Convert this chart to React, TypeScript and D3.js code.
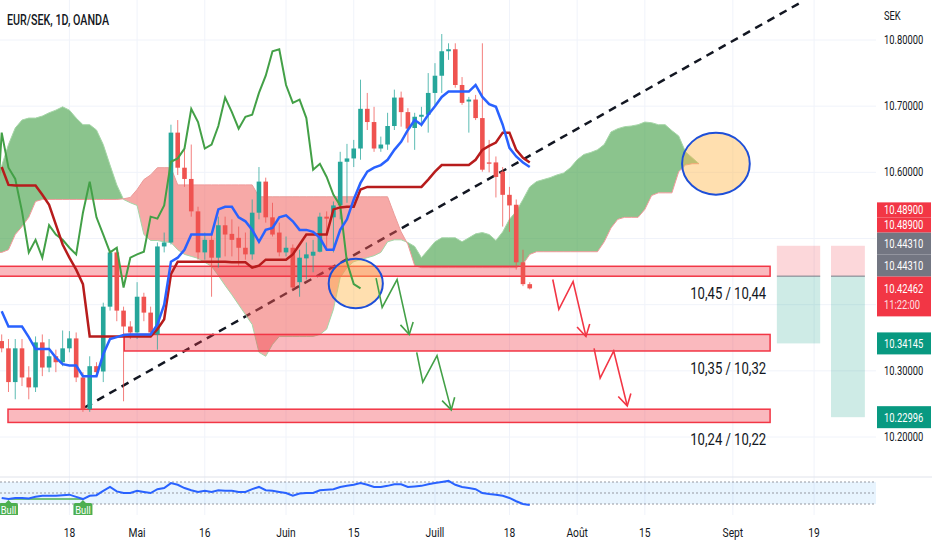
import React from "react";
import * as d3 from "d3";

const W = 932;
const H = 550;
const FONT = "Roboto, 'Liberation Sans', sans-serif";

// daily bars, weekdays only, first bar = 4 Apr 2022
const startDate = "2022-04-04";

const opens = [
  10.345, 10.334, 10.283, 10.334, 10.290, 10.275, 10.343, 10.305, 10.322, 10.313,
  10.334, 10.349, 10.290, 10.242, 10.307, 10.299, 10.397, 10.479, 10.391, 10.367,
  10.358, 10.412, 10.388, 10.355, 10.488, 10.494, 10.660, 10.607, 10.590, 10.541,
  10.479, 10.498, 10.471, 10.520, 10.507, 10.501, 10.486, 10.476, 10.539, 10.586,
  10.532, 10.509, 10.479, 10.486, 10.434, 10.470, 10.474, 10.480, 10.533, 10.532,
  10.550, 10.616, 10.621, 10.636, 10.696, 10.676, 10.636, 10.642, 10.670, 10.713,
  10.691, 10.667, 10.684, 10.687, 10.720, 10.746, 10.783, 10.786, 10.732, 10.707,
  10.710, 10.682, 10.615, 10.615, 10.601, 10.566, 10.551, 10.464, 10.431,
];
const highs = [
  10.355, 10.348, 10.348, 10.348, 10.307, 10.352, 10.355, 10.348, 10.332, 10.361,
  10.360, 10.358, 10.298, 10.322, 10.313, 10.403, 10.483, 10.483, 10.397, 10.375,
  10.434, 10.418, 10.397, 10.494, 10.509, 10.672, 10.679, 10.637, 10.642, 10.548,
  10.509, 10.509, 10.533, 10.533, 10.529, 10.518, 10.509, 10.559, 10.608, 10.592,
  10.554, 10.524, 10.503, 10.491, 10.483, 10.494, 10.498, 10.539, 10.541, 10.556,
  10.631, 10.643, 10.649, 10.740, 10.720, 10.699, 10.654, 10.690, 10.725, 10.722,
  10.697, 10.690, 10.699, 10.750, 10.765, 10.809, 10.795, 10.795, 10.744, 10.714,
  10.717, 10.795, 10.649, 10.624, 10.608, 10.578, 10.559, 10.483, 10.434,
];
const lows = [
  10.328, 10.268, 10.257, 10.277, 10.257, 10.268, 10.292, 10.298, 10.298, 10.307,
  10.328, 10.283, 10.238, 10.238, 10.292, 10.283, 10.391, 10.375, 10.254, 10.348,
  10.348, 10.375, 10.352, 10.332, 10.479, 10.491, 10.596, 10.578, 10.533, 10.468,
  10.468, 10.412, 10.456, 10.473, 10.473, 10.458, 10.468, 10.468, 10.529, 10.524,
  10.503, 10.473, 10.473, 10.423, 10.412, 10.438, 10.449, 10.479, 10.483, 10.479,
  10.529, 10.554, 10.608, 10.619, 10.664, 10.631, 10.631, 10.634, 10.664, 10.669,
  10.645, 10.634, 10.669, 10.660, 10.699, 10.720, 10.770, 10.728, 10.702, 10.660,
  10.679, 10.601, 10.600, 10.562, 10.518, 10.510, 10.453, 10.428, 10.423,
];
const closes = [
  10.334, 10.283, 10.334, 10.290, 10.275, 10.343, 10.305, 10.322, 10.313, 10.334,
  10.349, 10.290, 10.242, 10.307, 10.298, 10.397, 10.479, 10.391, 10.367, 10.358,
  10.412, 10.388, 10.358, 10.488, 10.494, 10.660, 10.607, 10.590, 10.541, 10.479,
  10.498, 10.471, 10.520, 10.506, 10.498, 10.486, 10.476, 10.539, 10.586, 10.532,
  10.506, 10.479, 10.486, 10.426, 10.471, 10.476, 10.480, 10.533, 10.530, 10.550,
  10.616, 10.621, 10.636, 10.696, 10.676, 10.636, 10.642, 10.670, 10.713, 10.691,
  10.666, 10.684, 10.687, 10.720, 10.746, 10.783, 10.786, 10.732, 10.705, 10.710,
  10.682, 10.604, 10.613, 10.593, 10.566, 10.550, 10.464, 10.431, 10.42462,
];

// Ichimoku lines
const tenkan = [
  10.390, 10.367, 10.367, 10.367, 10.351, 10.333, 10.333, 10.333, 10.320, 10.310,
  10.308, 10.308, 10.292, 10.292, 10.292, 10.325, 10.348, 10.351, 10.354, 10.355,
  10.355, 10.355, 10.355, 10.370, 10.400, 10.465, 10.471, 10.483, 10.506, 10.506,
  10.506, 10.506, 10.544, 10.548, 10.548, 10.532, 10.526, 10.513, 10.495, 10.513,
  10.516, 10.532, 10.535, 10.526, 10.513, 10.513, 10.510, 10.501, 10.483, 10.483,
  10.513, 10.529, 10.559, 10.584, 10.601, 10.607, 10.611, 10.619, 10.634, 10.646,
  10.664, 10.679, 10.672, 10.687, 10.700, 10.714, 10.722, 10.722, 10.722, 10.722,
  10.732, 10.714, 10.703, 10.699, 10.672, 10.637, 10.624, 10.615, 10.608,
];
const kijun = [
  10.608, 10.581, 10.580, 10.580, 10.580, 10.580, 10.566, 10.551, 10.521, 10.491,
  10.471, 10.453, 10.431, 10.352, 10.352, 10.352, 10.352, 10.352, 10.352, 10.352,
  10.352, 10.352, 10.352, 10.363, 10.378, 10.446, 10.465, 10.465, 10.465, 10.465,
  10.465, 10.465, 10.465, 10.465, 10.464, 10.464, 10.464, 10.456, 10.459, 10.468,
  10.468, 10.468, 10.468, 10.476, 10.491, 10.506, 10.506, 10.506, 10.506, 10.544,
  10.547, 10.548, 10.548, 10.574, 10.578, 10.578, 10.578, 10.578, 10.578, 10.578,
  10.578, 10.578, 10.578, 10.589, 10.601, 10.611, 10.611, 10.611, 10.611, 10.611,
  10.619, 10.634, 10.640, 10.645, 10.660, 10.660, 10.634, 10.622, 10.615,
];
// leading spans, bars -1 .. 103 (shifted forward)
const spanStart = -1;
const spanA = [
  10.585,
  10.610, 10.642, 10.667, 10.679, 10.682, 10.682, 10.685, 10.690, 10.694, 10.699,
  10.694, 10.682, 10.672, 10.672, 10.664, 10.642, 10.611, 10.581, 10.559, 10.554,
  10.550, 10.506, 10.497, 10.497, 10.495, 10.494, 10.483, 10.476, 10.473, 10.470,
  10.464, 10.458, 10.444, 10.429, 10.415, 10.400, 10.385, 10.370, 10.328, 10.322,
  10.340, 10.352, 10.352, 10.352, 10.352, 10.352, 10.352, 10.355, 10.363, 10.393,
  10.441, 10.456, 10.465, 10.468, 10.471, 10.474, 10.479, 10.495, 10.498, 10.498,
  10.494, 10.488, 10.471, 10.483, 10.495, 10.501, 10.501, 10.501, 10.495, 10.501,
  10.507, 10.509, 10.506, 10.497, 10.510, 10.529, 10.541, 10.559, 10.578, 10.586,
  10.589, 10.592, 10.596, 10.599, 10.607, 10.619, 10.627, 10.630, 10.634, 10.642,
  10.661, 10.666, 10.669, 10.670, 10.672, 10.676, 10.675, 10.672, 10.672, 10.663,
  10.655, 10.631, 10.622, 10.613,
];
const spanB = [
  10.479,
  10.479, 10.483, 10.506, 10.518, 10.532, 10.556, 10.559, 10.559, 10.559, 10.559,
  10.559, 10.559, 10.559, 10.559, 10.559, 10.559, 10.559, 10.559, 10.560, 10.562,
  10.574, 10.589, 10.596, 10.607, 10.607, 10.607, 10.581, 10.581, 10.581, 10.581,
  10.581, 10.581, 10.581, 10.581, 10.581, 10.581, 10.581, 10.581, 10.563, 10.563,
  10.563, 10.563, 10.563, 10.563, 10.563, 10.563, 10.563, 10.563, 10.563, 10.563,
  10.563, 10.563, 10.563, 10.563, 10.563, 10.563, 10.563, 10.563, 10.536, 10.510,
  10.491, 10.459, 10.456, 10.456, 10.456, 10.456, 10.456, 10.456, 10.456, 10.456,
  10.456, 10.456, 10.456, 10.456, 10.456, 10.456, 10.456, 10.461, 10.476, 10.480,
  10.480, 10.480, 10.480, 10.480, 10.480, 10.480, 10.480, 10.480, 10.480, 10.495,
  10.516, 10.529, 10.532, 10.532, 10.532, 10.544, 10.565, 10.569, 10.569, 10.569,
  10.601, 10.611, 10.613, 10.613,
];
const chikouShift = 25;

// oscillator pane
const rsi = [
  41, 39, 41, 41, 40, 43, 45, 45, 45, 46, 47, 43, 39, 45, 46, 54, 61, 53, 50, 50,
  54, 52, 50, 57, 59, 68, 65, 59, 55, 52, 54, 52, 55, 54, 54, 52, 52, 57, 61, 55,
  54, 52, 50, 45, 49, 50, 50, 55, 56, 57, 61, 63, 65, 68, 65, 61, 61, 63, 66, 66,
  61, 62, 63, 66, 68, 70, 72, 65, 61, 59, 57, 50, 48, 47, 45, 41, 35, 30, 28,
];
const rsiLevels = [70, 50, 30];
const bullBars = [1, 12];

const xTicks = [
  { date: "2022-04-18", label: "18" },
  { date: "2022-05-02", label: "Mai" },
  { date: "2022-05-16", label: "16" },
  { date: "2022-06-01", label: "Juin" },
  { date: "2022-06-15", label: "15" },
  { date: "2022-07-01", label: "Juill" },
  { date: "2022-07-18", label: "18" },
  { date: "2022-08-01", label: "Août" },
  { date: "2022-08-15", label: "15" },
  { date: "2022-09-01", label: "Sept" },
  { date: "2022-09-19", label: "19" },
];
const priceGrid = [10.2, 10.3, 10.4, 10.5, 10.6, 10.7, 10.8];
const priceTickLabels = [10.2, 10.3, 10.6, 10.7, 10.8];

// drawings
const trendline = [
  { bar: 12.3, price: 10.245 },
  { bar: 117.9, price: 10.856 },
];
const zones = [
  { top: 10.458, bottom: 10.443, from: -1.5, to: 113.5, label: "10,45 / 10,44" },
  { top: 10.355, bottom: 10.33, from: 18.1, to: 113.5, label: "10,35 / 10,32" },
  { top: 10.242, bottom: 10.222, from: 0.93, to: 113.5, label: "10,24 / 10,22" },
];
const arrows = [
  { color: "#43A047", pts: [[55.3, 10.44], [56.2, 10.396], [58.4, 10.438], [60.2, 10.355]] },
  { color: "#43A047", pts: [[61.3, 10.328], [62.2, 10.283], [64.3, 10.323], [66.4, 10.241]] },
  { color: "#F23645", pts: [[81.4, 10.438], [82.3, 10.393], [84.4, 10.435], [86.3, 10.352]] },
  { color: "#F23645", pts: [[87.5, 10.334], [88.4, 10.289], [90.4, 10.33], [92.4, 10.247]] },
];
const ellipses = [
  { bar: 52.3, price: 10.432, rBars: 4.0, rPrice: 0.0375 },
  { bar: 105.5, price: 10.613, rBars: 5.0, rPrice: 0.0467 },
];
const positions = [
  { from: 114.5, to: 120.9, entry: 10.4431, stop: 10.489, target: 10.34145 },
  { from: 122.5, to: 127.5, entry: 10.4431, stop: 10.489, target: 10.22996 },
];
const axisLabels = [
  { price: 10.22996, text: "10.22996", color: "#089981", h: 22 },
  { price: 10.34145, text: "10.34145", color: "#089981", h: 22 },
  { price: 10.42462, text: "10.42462", sub: "11:22:00", color: "#F23645", h: 40 },
  { price: 10.4431, text: "10.44310", color: "#737682", h: 22 },
  { price: 10.4431, text: "10.44310", color: "#737682", h: 22 },
  { price: 10.489, text: "10.48900", color: "#F23645", h: 15 },
  { price: 10.489, text: "10.48900", color: "#F23645", h: 15 },
];

const UP = "#26A69A";
const DOWN = "#EF5350";

function barOf(date: string) {
  const t = new Date(startDate + "T00:00:00Z");
  const d = new Date(date + "T00:00:00Z");
  let n = 0;
  while (t < d) {
    t.setUTCDate(t.getUTCDate() + 1);
    const w = t.getUTCDay();
    if (w !== 0 && w !== 6) n++;
  }
  return n;
}

function arrowHead(p1: number[], p2: number[], len = 13, ang = Math.PI / 6) {
  const a = Math.atan2(p2[1] - p1[1], p2[0] - p1[0]);
  const w1 = [p2[0] - len * Math.cos(a - ang), p2[1] - len * Math.sin(a - ang)];
  const w2 = [p2[0] - len * Math.cos(a + ang), p2[1] - len * Math.sin(a + ang)];
  return `M${w1[0]},${w1[1]}L${p2[0]},${p2[1]}L${w2[0]},${w2[1]}`;
}

// narrow text: the screenshot font is much more condensed than Roboto
function NText(props: {
  x: number;
  y: number;
  size: number;
  sx?: number;
  anchor?: "start" | "middle" | "end";
  fill?: string;
  weight?: number;
  opacity?: number;
  children: React.ReactNode;
}) {
  const { x, y, size, sx = 0.8, anchor = "start", fill = "#131722", weight = 400, opacity = 1 } = props;
  return (
    <text
      transform={`translate(${x},${y}) scale(${sx},1)`}
      fontSize={size}
      textAnchor={anchor}
      fill={fill}
      fontWeight={weight}
      fillOpacity={opacity}
    >
      {props.children}
    </text>
  );
}

export default function App() {
  const plotRight = 876;
  const mainBottom = 477;
  const paneBottom = 515;

  const x = d3.scaleLinear().domain([0, 78]).range([1.7, 1.7 + 78 * 6.77]);
  const y = d3.scaleLinear().domain([10.2, 10.8]).range([437, 40]);
  const ry = d3.scaleLinear().domain([30, 70]).range([504, 482]);
  const fmt = d3.format(".5f");

  const bodyW = 4.6;
  const spanBar = (k: number) => x(k + spanStart);

  const between = d3
    .area<number>()
    .x((_, k) => spanBar(k))
    .y0((_, k) => y(spanB[k]))
    .y1((_, k) => y(spanA[k]))(spanA) as string;
  const aboveB = d3
    .area<number>()
    .x((_, k) => spanBar(k))
    .y0(0)
    .y1((_, k) => y(spanB[k]))(spanB) as string;
  const belowB = d3
    .area<number>()
    .x((_, k) => spanBar(k))
    .y0((_, k) => y(spanB[k]))
    .y1(mainBottom)(spanB) as string;
  const lineA = d3.line<number>().x((_, k) => spanBar(k)).y((v) => y(v))(spanA) as string;
  const lineB = d3.line<number>().x((_, k) => spanBar(k)).y((v) => y(v))(spanB) as string;

  const priceLine = d3.line<number>().x((_, i) => x(i)).y((v) => y(v));
  const chikouPts = closes
    .map((c, i) => [x(i - chikouShift), y(c)] as [number, number])
    .filter((_, i) => i - chikouShift >= -1);
  const chikou = d3.line()(chikouPts) as string;
  const rsiLine = d3.line<number>().x((_, i) => x(i)).y((v) => ry(v))(rsi) as string;

  // price axis label stacking (bottom up)
  const sorted = [...axisLabels].sort((a, b) => a.price - b.price);
  let prevTop = Infinity;
  const placed = sorted.map((l) => {
    let top = l.sub ? y(l.price) - 12 : y(l.price) - l.h / 2;
    let bottom = top + l.h;
    if (bottom > prevTop) {
      bottom = prevTop;
      top = bottom - l.h;
    }
    prevTop = top;
    return { ...l, top };
  });

  const axSx = 0.78;

  return (
    <svg
      width={W}
      height={H}
      viewBox={`0 0 ${W} ${H}`}
      style={{ position: "fixed", left: 0, top: 0, background: "#fff", fontFamily: FONT }}
    >
      <defs>
        <clipPath id="main">
          <rect x={0} y={0} width={plotRight} height={mainBottom} />
        </clipPath>
        <clipPath id="pane">
          <rect x={0} y={mainBottom + 1} width={plotRight} height={paneBottom - mainBottom - 1} />
        </clipPath>
        <clipPath id="aboveB">
          <path d={aboveB} />
        </clipPath>
        <clipPath id="belowB">
          <path d={belowB} />
        </clipPath>
      </defs>
      <rect width={W} height={H} fill="#fff" />

      {/* grid */}
      {xTicks.map((t) => (
        <line key={t.date} x1={x(barOf(t.date))} x2={x(barOf(t.date))} y1={0} y2={paneBottom} stroke="#F0F3FA" />
      ))}
      {priceGrid.map((p) => (
        <line key={p} x1={0} x2={plotRight} y1={y(p)} y2={y(p)} stroke="#F0F3FA" />
      ))}

      <g clipPath="url(#main)">
        {/* trend line */}
        <line
          x1={x(trendline[0].bar)}
          y1={y(trendline[0].price)}
          x2={x(trendline[1].bar)}
          y2={y(trendline[1].price)}
          stroke="#131722"
          strokeWidth={2.5}
          strokeDasharray="8 6"
        />

        {/* kumo */}
        <path d={between} fill="rgba(67,160,71,0.62)" clipPath="url(#aboveB)" />
        <path d={between} fill="rgba(239,83,80,0.5)" clipPath="url(#belowB)" />
        <path d={lineA} fill="none" stroke="#A5D6A7" strokeWidth={1} />
        <path d={lineB} fill="none" stroke="#EF9A9A" strokeWidth={1} />

        {/* zones */}
        {zones.map((z) => (
          <rect
            key={z.label}
            x={x(z.from)}
            y={y(z.top)}
            width={x(z.to) - x(z.from)}
            height={y(z.bottom) - y(z.top)}
            fill="rgba(242,54,69,0.35)"
            stroke="#F23645"
            strokeWidth={1.5}
          />
        ))}

        {/* long/short tools */}
        {positions.map((p, i) => (
          <g key={i}>
            <rect x={x(p.from)} y={y(p.stop)} width={x(p.to) - x(p.from)} height={y(p.entry) - y(p.stop)} fill="rgba(242,54,69,0.2)" />
            <rect x={x(p.from)} y={y(p.entry)} width={x(p.to) - x(p.from)} height={y(p.target) - y(p.entry)} fill="rgba(8,153,129,0.2)" />
            <line x1={x(p.from)} x2={x(p.to)} y1={y(p.entry)} y2={y(p.entry)} stroke="#787B86" />
          </g>
        ))}

        {/* candles */}
        {closes.map((c, i) => {
          const o = opens[i];
          const col = c >= o ? UP : DOWN;
          const top = y(Math.max(o, c));
          const h = Math.max(1, y(Math.min(o, c)) - top);
          return (
            <g key={i}>
              <line x1={x(i)} x2={x(i)} y1={y(highs[i])} y2={y(lows[i])} stroke={col} strokeWidth={1} strokeOpacity={0.75} />
              <rect x={x(i) - bodyW / 2} y={top} width={bodyW} height={h} fill={col} />
            </g>
          );
        })}

        {/* ellipses */}
        {ellipses.map((e, i) => (
          <ellipse
            key={i}
            cx={x(e.bar)}
            cy={y(e.price)}
            rx={x(e.bar + e.rBars) - x(e.bar)}
            ry={y(e.price - e.rPrice) - y(e.price)}
            fill="rgba(255,183,77,0.45)"
            stroke="#1E4FD8"
            strokeWidth={2}
          />
        ))}

        {/* ichimoku lines */}
        <path d={chikou} fill="none" stroke="#43A047" strokeWidth={2} />
        <path d={priceLine(kijun) as string} fill="none" stroke="#B71C1C" strokeWidth={2.5} />
        <path d={priceLine(tenkan) as string} fill="none" stroke="#2962FF" strokeWidth={2.5} />

        {/* zigzag arrows */}
        {arrows.map((a, i) => {
          const pts = a.pts.map(([b, p]) => [x(b), y(p)]);
          const d = "M" + pts.map((p) => p.join(",")).join("L");
          return (
            <g key={i} fill="none" stroke={a.color} strokeWidth={1.6} strokeLinejoin="miter">
              <path d={d} />
              <path d={arrowHead(pts[pts.length - 2], pts[pts.length - 1])} />
            </g>
          );
        })}

        {zones.map((z) => (
          <NText key={z.label} x={x(z.to) - 4} y={y(z.bottom) + 23} size={17} sx={0.77} anchor="end">
            {z.label}
          </NText>
        ))}
      </g>

      {/* separator */}
      <line x1={0} x2={W} y1={mainBottom} y2={mainBottom} stroke="#E0E3EB" />

      {/* oscillator pane */}
      <g clipPath="url(#pane)">
        <rect x={0} y={ry(70)} width={plotRight} height={ry(30) - ry(70)} fill="rgba(33,150,243,0.1)" />
        {rsiLevels.map((l) => (
          <line key={l} x1={0} x2={plotRight} y1={ry(l)} y2={ry(l)} stroke="#9598A1" strokeDasharray="2 2" strokeWidth={1} />
        ))}
        <line
          x1={x(bullBars[0])}
          x2={x(bullBars[1])}
          y1={ry(rsi[bullBars[0]])}
          y2={ry(rsi[bullBars[1]])}
          stroke="#4CAF50"
          strokeWidth={1.5}
        />
        <path d={rsiLine} fill="none" stroke="#2962FF" strokeWidth={2} />
        {bullBars.map((b) => {
          const cx = x(b);
          const top = ry(rsi[b]) + 4;
          return (
            <g key={b}>
              <path d={`M${cx - 3},${top}L${cx},${top - 3}L${cx + 3},${top}Z`} fill="#4CAF50" />
              <rect x={cx - 9.5} y={top} width={19} height={15} rx={2} fill="#4CAF50" />
              <NText x={cx} y={top + 11} size={11} sx={0.85} anchor="middle" fill="#fff">
                Bull
              </NText>
            </g>
          );
        })}
      </g>

      {/* time axis */}
      {xTicks.map((t) => (
        <NText key={t.date} x={x(barOf(t.date))} y={537} size={12.5} sx={0.82} anchor="middle">
          {t.label}
        </NText>
      ))}

      {/* price axis */}
      <NText x={884} y={20} size={12} sx={axSx}>
        SEK
      </NText>
      {priceTickLabels.map((p) => (
        <NText key={p} x={884} y={y(p) + 4} size={12} sx={axSx}>
          {fmt(p)}
        </NText>
      ))}
      {placed.map((l, i) => (
        <g key={i}>
          <rect x={877} y={l.top} width={54} height={l.h} fill={l.color} />
          {l.sub ? (
            <>
              <NText x={884} y={l.top + 17} size={12} sx={axSx} fill="#fff">
                {l.text}
              </NText>
              <NText x={884} y={l.top + 33} size={12} sx={axSx} fill="#fff" opacity={0.85}>
                {l.sub}
              </NText>
            </>
          ) : (
            <NText x={884} y={l.top + l.h / 2 + 4.5} size={12} sx={axSx} fill="#fff">
              {l.text}
            </NText>
          )}
        </g>
      ))}

      {/* title */}
      <NText x={7} y={25} size={14.5} sx={0.74} weight={500}>
        EUR/SEK, 1D, OANDA
      </NText>
    </svg>
  );
}
